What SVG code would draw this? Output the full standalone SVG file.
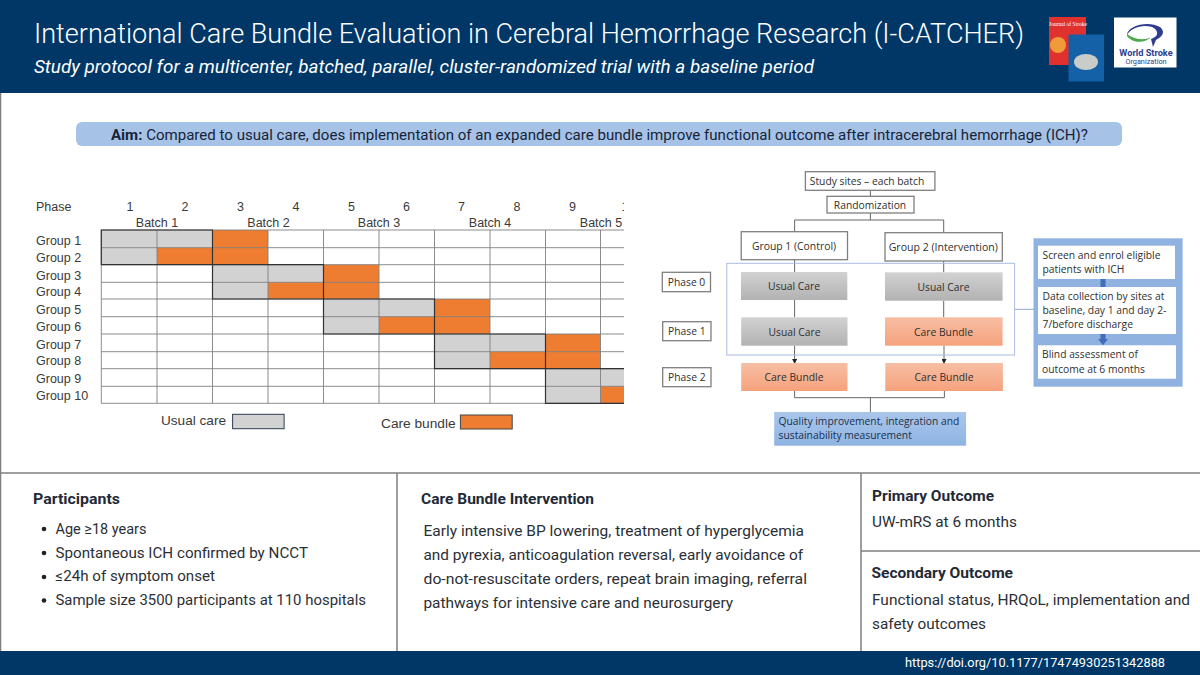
<svg xmlns="http://www.w3.org/2000/svg" width="1200" height="675" viewBox="0 0 1200 675">
<style>
.r{font-family:Roboto,"Liberation Sans",sans-serif}
.a{font-family:"Liberation Sans",Arial,sans-serif;font-size:12.5px;fill:#3a3a3a}
.m{text-anchor:middle}
.f{font-family:"Open Sans","Noto Sans",sans-serif;font-size:10.3px;fill:#2f2f2f}
.b{fill:#fff;stroke:#7f7f7f;stroke-width:1.3}
.h{font-family:Roboto,sans-serif;font-size:15px;font-weight:700;fill:#1f2a37}
.t{font-family:Roboto,sans-serif;font-size:15px;fill:#2b2f36}
.g{stroke:#808080;stroke-width:.9;fill:none}
.d{stroke:#333;stroke-width:1.2;fill:none}
.u{fill:#d2d2d2}.o{fill:#ee7d31}
.c{stroke:#666;stroke-width:1;fill:none}
</style>
<defs>
<linearGradient id="gu" x1="0" y1="0" x2="0" y2="1"><stop offset="0" stop-color="#d2d2d2"/><stop offset="1" stop-color="#b2b2b2"/></linearGradient>
<linearGradient id="go" x1="0" y1="0" x2="0" y2="1"><stop offset="0" stop-color="#f7bea4"/><stop offset="1" stop-color="#f5a27c"/></linearGradient>
<linearGradient id="gb" x1="0" y1="0" x2="0" y2="1"><stop offset="0" stop-color="#a9c6ea"/><stop offset="1" stop-color="#8fb4e3"/></linearGradient>
<marker id="ah" markerWidth="5" markerHeight="5" refX="4" refY="2.5" orient="auto"><path d="M0 0L5 2.5L0 5Z" fill="#222"/></marker>
<clipPath id="clip"><rect x="90" y="190" width="534" height="220"/></clipPath>
</defs>
<rect width="1200" height="675" fill="#fff"/>
<g id="header">
<rect width="1200" height="93" fill="#003767"/>
<text x="34" y="43" class="r" font-size="27.2" font-weight="300" fill="#fff" textLength="990" lengthAdjust="spacingAndGlyphs">International Care Bundle Evaluation in Cerebral Hemorrhage Research (I-CATCHER)</text>
<text x="34" y="73" class="r" font-size="17.5" font-style="italic" fill="#fff" textLength="780" lengthAdjust="spacingAndGlyphs">Study protocol for a multicenter, batched, parallel, cluster-randomized trial with a baseline period</text>
</g>
<g id="logos">
<rect x="1049" y="17" width="37" height="48" fill="#e0312f"/>
<circle cx="1058" cy="45" r="8" fill="#f09a3a"/>
<text x="1068" y="26" font-family="Liberation Serif,serif" font-size="5.5" fill="#fff" text-anchor="middle">Journal of Stroke</text>
<rect x="1068.500" y="34.500" width="35.500" height="47" fill="#1561a8"/>
<ellipse cx="1086" cy="62" rx="12" ry="8" fill="#c9ccc8"/>
<rect x="1114" y="17.500" width="62.500" height="50" fill="#fff"/>
<path d="M1127 35C1127 26 1148 20 1160 27C1167 33 1160 38 1156 40L1153 47L1151 39C1158 37 1160 31 1152 27C1142 24 1131 28 1127 35Z" fill="#2e3d8f"/>
<path d="M1127 36C1133 44 1146 43 1151 37C1146 40 1136 41 1127 34Z" fill="#4aa84a"/>
<text x="1146" y="56" font-family="Roboto,sans-serif" font-size="9.2" font-weight="700" fill="#2e3d8f" text-anchor="middle">World Stroke</text>
<text x="1146" y="63.500" font-family="Roboto,sans-serif" font-size="7.3" fill="#2e3d8f" text-anchor="middle">Organization</text>
</g>
<g id="aim">
<rect x="76" y="122" width="1046" height="24" rx="6" fill="#a6c2e6"/>
<text x="111" y="140" class="r" font-size="15" fill="#16243a" textLength="977" lengthAdjust="spacingAndGlyphs"><tspan font-weight="700">Aim:</tspan> Compared to usual care, does implementation of an expanded care bundle improve functional outcome after intracerebral hemorrhage (ICH)?</text>
</g>
<g id="stepped-wedge-chart">
<g clip-path="url(#clip)">
<rect class="u" x="101.300" y="230" width="111.200" height="17.700"/><rect class="u" x="101.300" y="247.700" width="55.700" height="17"/>
<rect class="o" x="157" y="247.700" width="55.500" height="17"/><rect class="o" x="212.500" y="230" width="55.500" height="34.700"/>
<rect class="u" x="212.500" y="264.700" width="111" height="17.600"/><rect class="u" x="212.500" y="282.300" width="55.500" height="16.700"/>
<rect class="o" x="268" y="282.300" width="55.500" height="16.700"/><rect class="o" x="323.500" y="264.700" width="55.500" height="34.300"/>
<rect class="u" x="323.500" y="299" width="111" height="17.700"/><rect class="u" x="323.500" y="316.700" width="55.500" height="17.300"/>
<rect class="o" x="379" y="316.700" width="55.500" height="17.300"/><rect class="o" x="434.500" y="299" width="55.500" height="35"/>
<rect class="u" x="434.500" y="334" width="111" height="17.700"/><rect class="u" x="434.500" y="351.700" width="55.500" height="17"/>
<rect class="o" x="490" y="351.700" width="55.500" height="17"/><rect class="o" x="545.500" y="334" width="55" height="34.700"/>
<rect class="u" x="545.500" y="368.700" width="78.500" height="17.600"/><rect class="u" x="545.500" y="386.300" width="55" height="17"/>
<rect class="o" x="600.500" y="386.300" width="23.500" height="17"/>
<path class="g" d="M101.300 230V403.300M157 230V403.300M212.500 230V403.300M268 230V403.300M323.500 230V403.300M379 230V403.300M434.500 230V403.300M490 230V403.300M545.500 230V403.300M600.500 230V403.300"/>
<path class="g" d="M101.300 230H624M101.300 247.700H624M101.300 264.700H624M101.300 282.300H624M101.300 299H624M101.300 316.700H624M101.300 334H624M101.300 351.700H624M101.300 368.700H624M101.300 386.300H624M101.300 403.300H624"/>
<path class="d" d="M101.300 230H212.500V264.700H101.300ZM212.500 264.700H323.500V299H212.500ZM323.500 299H434.500V334H323.500ZM434.500 334H545.500V368.700H434.500ZM545.500 368.700H624M545.500 368.700V403.300H624"/>
<text class="a m" x="628.500" y="211">10</text>
</g>
<text class="a" x="36" y="211">Phase</text>
<text class="a m" x="130" y="211">1</text><text class="a m" x="185" y="211">2</text><text class="a m" x="240.500" y="211">3</text><text class="a m" x="296" y="211">4</text><text class="a m" x="351.500" y="211">5</text><text class="a m" x="406.500" y="211">6</text><text class="a m" x="461.500" y="211">7</text><text class="a m" x="517" y="211">8</text><text class="a m" x="572.500" y="211">9</text>
<text class="a m" x="157" y="227">Batch 1</text><text class="a m" x="268.500" y="227">Batch 2</text><text class="a m" x="379" y="227">Batch 3</text><text class="a m" x="490" y="227">Batch 4</text><text class="a m" x="601" y="227">Batch 5</text>
<text class="a" x="36" y="245">Group 1</text><text class="a" x="36" y="262">Group 2</text><text class="a" x="36" y="280">Group 3</text><text class="a" x="36" y="296">Group 4</text><text class="a" x="36" y="314">Group 5</text><text class="a" x="36" y="331">Group 6</text><text class="a" x="36" y="349">Group 7</text><text class="a" x="36" y="365">Group 8</text><text class="a" x="36" y="383">Group 9</text><text class="a" x="36" y="400">Group 10</text>
<text class="a" x="161" y="425" style="font-size:13.600px">Usual care</text>
<rect x="232.600" y="414.300" width="51.500" height="14.400" fill="#d2d2d2" stroke="#2c3e57" stroke-width="1"/>
<text class="a" x="381" y="427.500" style="font-size:13.700px">Care bundle</text>
<rect x="460.400" y="415" width="51.800" height="14" fill="#ee7d31" stroke="#444" stroke-width="1"/>
</g>
<g id="connectors">
<path class="c" d="M870.400 190.300V196.300M870.400 213V220M794.600 231.700V220H943.700V232.700"/>
<path class="c" d="M794.600 259.700V272M794.600 300V317.300M943.700 261V272.300M943.700 300.700V317.300"/>
<path class="c" d="M794.600 345.700V363" marker-end="url(#ah)"/>
<path class="c" d="M944 345.700V363" marker-end="url(#ah)"/>
<path class="c" d="M794.600 391V397.700H944.400V391M870.400 397.700V412"/>
<path d="M1014.600 309.300H1038" stroke="#8fa8d8" stroke-width="1" fill="none"/>
</g>
<g id="phase-frame"><rect x="726.800" y="263.300" width="287.800" height="91.700" fill="none" stroke="#a9bce0" stroke-width="1"/></g>
<g id="study-sites"><rect class="b" x="805.400" y="171.700" width="129.500" height="18.600"/><text class="f m" x="867" y="185">Study sites – each batch</text></g>
<g id="randomization"><rect class="b" x="827" y="196.300" width="87" height="16.700"/><text class="f m" x="870" y="208.500">Randomization</text></g>
<g id="group-1"><rect class="b" x="741.200" y="231.700" width="106.300" height="28"/><text class="f m" x="794" y="250" style="font-size:10.400px">Group 1 (Control)</text></g>
<g id="group-2"><rect class="b" x="885" y="232.700" width="117.300" height="28.300"/><text class="f m" x="943.300" y="251" style="font-size:10.550px">Group 2 (Intervention)</text></g>
<g id="phase-0"><rect class="b" x="662.300" y="272.300" width="48.200" height="19.400"/><text class="f m" x="686.500" y="285.500">Phase 0</text></g>
<g id="phase-1"><rect class="b" x="662.700" y="321.700" width="48.300" height="19"/><text class="f m" x="686.800" y="335">Phase 1</text></g>
<g id="phase-2"><rect class="b" x="662.700" y="367.700" width="48.300" height="19"/><text class="f m" x="686.800" y="381">Phase 2</text></g>
<g id="usual-1a"><rect x="741" y="272" width="106.300" height="28" fill="url(#gu)"/><text class="f m" x="794" y="290">Usual Care</text></g>
<g id="usual-2a"><rect x="885" y="272.300" width="117.600" height="28.400" fill="url(#gu)"/><text class="f m" x="943.500" y="290.500">Usual Care</text></g>
<g id="usual-1b"><rect x="741.200" y="317.300" width="106.300" height="28.400" fill="url(#gu)"/><text class="f m" x="794.500" y="335.500">Usual Care</text></g>
<g id="bundle-2b"><rect x="885" y="317.300" width="117.600" height="28.400" fill="url(#go)"/><text class="f m" x="943.500" y="335.500">Care Bundle</text></g>
<g id="bundle-1c"><rect x="741.200" y="363" width="106.300" height="28" fill="url(#go)"/><text class="f m" x="794" y="381">Care Bundle</text></g>
<g id="bundle-2c"><rect x="885.300" y="363" width="117.600" height="28" fill="url(#go)"/><text class="f m" x="944" y="381">Care Bundle</text></g>
<g id="quality"><rect x="774.200" y="412" width="191.900" height="33.700" fill="url(#gb)"/><text class="f" x="778.500" y="425" style="fill:#1c2f4a">Quality improvement, integration and</text><text class="f" x="778.500" y="439" style="fill:#1c2f4a">sustainability measurement</text></g>
<g id="procedures">
<rect x="1033.500" y="238.300" width="149.100" height="148.400" fill="#8fb2e0"/>
<rect x="1100.500" y="279" width="5" height="8" fill="#3f6fb8"/>
<path d="M1100.500 334H1105.500V339H1108L1103 345.300L1098 339H1100.500Z" fill="#3f6fb8"/>
<g id="screen"><rect x="1038" y="245.700" width="137" height="33.300" fill="#fff"/><text class="f" x="1042.500" y="259">Screen and enrol eligible</text><text class="f" x="1042.500" y="273">patients with ICH</text></g>
<g id="data-collection"><rect x="1038" y="287" width="138" height="47" fill="#fff"/><text class="f" x="1042.500" y="300">Data collection by sites at</text><text class="f" x="1042.500" y="314">baseline, day 1 and day 2-</text><text class="f" x="1042.500" y="328">7/before discharge</text></g>
<g id="blind"><rect x="1038" y="345.300" width="138" height="33.400" fill="#fff"/><text class="f" x="1042" y="358">Blind assessment of</text><text class="f" x="1042" y="373">outcome at 6 months</text></g>
</g>
<g id="panels">
<path d="M0.500 93V651M0 473H1200M397 473V651M861 473V651M861 551H1200" stroke="#7f7f7f" stroke-width="1.500" fill="none"/>
<g id="participants">
<text class="h" x="33" y="504" textLength="87" lengthAdjust="spacingAndGlyphs">Participants</text>
<circle cx="44" cy="529" r="2.300" fill="#222"/><circle cx="44" cy="553" r="2.300" fill="#222"/><circle cx="44" cy="577" r="2.300" fill="#222"/><circle cx="44" cy="600.500" r="2.300" fill="#222"/>
<text class="t" x="55.500" y="533.500" textLength="91" lengthAdjust="spacingAndGlyphs">Age ≥18 years</text>
<text class="t" x="55.500" y="557.500" textLength="252.500" lengthAdjust="spacingAndGlyphs">Spontaneous ICH confirmed by NCCT</text>
<text class="t" x="55.500" y="581" textLength="159.500" lengthAdjust="spacingAndGlyphs">≤24h of symptom onset</text>
<text class="t" x="55.500" y="605" textLength="310.500" lengthAdjust="spacingAndGlyphs">Sample size 3500 participants at 110 hospitals</text>
</g>
<g id="intervention">
<text class="h" x="421" y="504" textLength="173" lengthAdjust="spacingAndGlyphs">Care Bundle Intervention</text>
<text class="t" x="423.500" y="536" textLength="380.500" lengthAdjust="spacingAndGlyphs">Early intensive BP lowering, treatment of hyperglycemia</text>
<text class="t" x="423.500" y="560" textLength="379.500" lengthAdjust="spacingAndGlyphs">and pyrexia, anticoagulation reversal, early avoidance of</text>
<text class="t" x="423.500" y="584" textLength="383.500" lengthAdjust="spacingAndGlyphs">do-not-resuscitate orders, repeat brain imaging, referral</text>
<text class="t" x="423.500" y="607.500" textLength="309.500" lengthAdjust="spacingAndGlyphs">pathways for intensive care and neurosurgery</text>
</g>
<g id="primary">
<text class="h" x="872" y="501" textLength="122" lengthAdjust="spacingAndGlyphs">Primary Outcome</text>
<text class="t" x="872" y="527" textLength="145" lengthAdjust="spacingAndGlyphs">UW-mRS at 6 months</text>
</g>
<g id="secondary">
<text class="h" x="871.500" y="578" textLength="141.500" lengthAdjust="spacingAndGlyphs">Secondary Outcome</text>
<text class="t" x="872" y="605" textLength="318" lengthAdjust="spacingAndGlyphs">Functional status, HRQoL, implementation and</text>
<text class="t" x="872" y="629" textLength="114" lengthAdjust="spacingAndGlyphs">safety outcomes</text>
</g>
</g>
<g id="footer">
<rect y="651" width="1200" height="24" fill="#003767"/>
<text x="905" y="667" class="r" font-size="12.800" fill="#fff" textLength="260" lengthAdjust="spacingAndGlyphs">https://doi.org/10.1177/17474930251342888</text>
</g>
</svg>
